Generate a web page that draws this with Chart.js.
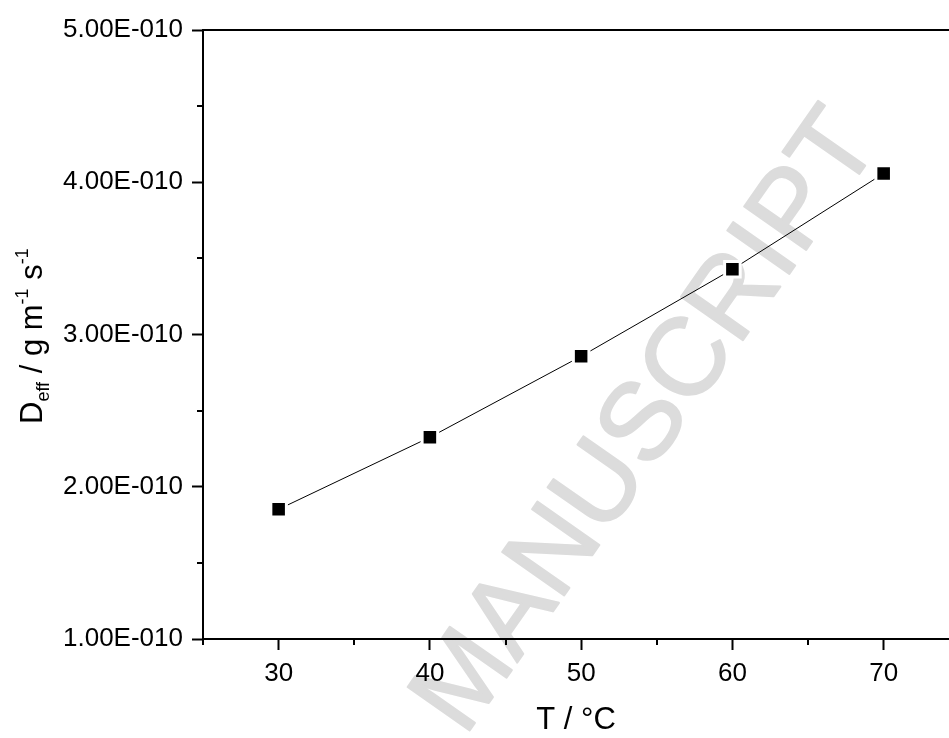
<!DOCTYPE html>
<html>
<head>
<meta charset="utf-8">
<script src="https://cdn.jsdelivr.net/npm/chart.js@4/dist/chart.umd.min.js"></script>
<style>
  html, body { margin: 0; padding: 0; background: #fff; }
  #wrap { width: 949px; height: 738px; }
</style>
</head>
<body>
<div id="wrap"><canvas id="c" width="949" height="738"></canvas></div>
<script>
// ---- data ----
const temperatures = [30, 40, 50, 60, 70];                                   // T / °C
const deffValues   = [1.852e-10, 2.325e-10, 2.857e-10, 3.428e-10, 4.058e-10]; // D_eff
const xTickValues  = [25, 30, 35, 40, 45, 50, 55, 60, 65, 70];
const yTickValues  = [1.0e-10, 1.5e-10, 2.0e-10, 2.5e-10, 3.0e-10, 3.5e-10, 4.0e-10, 4.5e-10, 5.0e-10];
const xTitle = 'T / °C';
const watermarkText = 'MANUSCRIPT';

const FONT = '"Liberation Sans", Arial, Helvetica, sans-serif';

function isMajorX(v) { return Math.abs(v % 10) < 1e-9; }
function isMajorY(v) { const m = v / 1e-10; return Math.abs(m - Math.round(m)) < 1e-6; }
function fmtE(v) {
  const exp = Math.floor(Math.log10(Math.abs(v)) + 1e-9);
  const mant = v / Math.pow(10, exp);
  return mant.toFixed(2) + 'E' + (exp < 0 ? '-' : '+') + String(Math.abs(exp)).padStart(3, '0');
}

const decorPlugin = {
  id: 'decor',
  beforeDraw(chart) {
    const ctx = chart.ctx;
    // watermark
    ctx.save();
    ctx.translate(673, 440);
    ctx.rotate(-55 * Math.PI / 180);
    ctx.font = '110px ' + FONT;
    ctx.fillStyle = 'rgb(220,220,220)';
    ctx.strokeStyle = 'rgb(220,220,220)';
    ctx.lineWidth = 2;
    ctx.lineJoin = 'round';
    ctx.textAlign = 'center';
    ctx.textBaseline = 'alphabetic';
    ctx.fillText(watermarkText, 0, 0);
    ctx.strokeText(watermarkText, 0, 0);
    ctx.restore();
  },
  afterDraw(chart) {
    const ctx = chart.ctx;
    const area = chart.chartArea;
    const xs = chart.scales.x, ys = chart.scales.y;
    const align = p => Math.round(p - 1) + 1;
    ctx.save();
    ctx.strokeStyle = '#000';
    ctx.lineWidth = 2;
    // minor ticks x
    xs.ticks.forEach(t => {
      if (!isMajorX(t.value)) {
        const px = align(xs.getPixelForValue(t.value));
        ctx.beginPath(); ctx.moveTo(px, area.bottom); ctx.lineTo(px, area.bottom + 6); ctx.stroke();
      }
    });
    // minor ticks y
    ys.ticks.forEach(t => {
      if (!isMajorY(t.value)) {
        const py = align(ys.getPixelForValue(t.value));
        ctx.beginPath(); ctx.moveTo(area.left, py); ctx.lineTo(area.left - 6, py); ctx.stroke();
      }
    });
    // top frame line
    const ty = align(area.top);
    ctx.beginPath(); ctx.moveTo(area.left - 1, ty); ctx.lineTo(chart.width, ty); ctx.stroke();
    ctx.restore();

    // y-axis title with sub/superscripts
    ctx.save();
    ctx.translate(42, 424);
    ctx.rotate(-Math.PI / 2);
    ctx.fillStyle = '#000';
    ctx.textAlign = 'left';
    ctx.textBaseline = 'alphabetic';
    const segs = [
      { t: 'D', s: 31, dy: 0 },
      { t: 'eff', s: 18, dy: 7 },
      { t: ' / g m', s: 31, dy: 0 },
      { t: '-1', s: 18, dy: -14 },
      { t: ' s', s: 31, dy: 0 },
      { t: '-1', s: 18, dy: -14 }
    ];
    let x = 0;
    segs.forEach(g => {
      ctx.font = g.s + 'px ' + FONT;
      ctx.fillText(g.t, x, g.dy);
      x += ctx.measureText(g.t).width;
    });
    ctx.restore();
  }
};

new Chart(document.getElementById('c'), {
  type: 'line',
  data: {
    datasets: [{
      data: temperatures.map((t, i) => ({ x: t, y: deffValues[i] })),
      borderColor: '#000',
      borderWidth: 1,
      backgroundColor: '#000',
      pointStyle: 'rect',
      pointRadius: 11,
      pointBackgroundColor: '#000',
      pointBorderColor: '#fff',
      pointBorderWidth: 3,
      tension: 0,
      fill: false
    }]
  },
  options: {
    responsive: false,
    animation: false,
    devicePixelRatio: 1,
    layout: { autoPadding: false, padding: { top: 30, right: 0, bottom: 0, left: 0 } },
    plugins: { legend: { display: false }, tooltip: { enabled: false } },
    events: [],
    scales: {
      x: {
        type: 'linear',
        position: 'bottom',
        min: 25,
        max: 74.32,
        bounds: 'data',
        afterBuildTicks: s => { s.ticks = xTickValues.map(v => ({ value: v })); },
        afterFit: s => { s.height = 99; s.paddingLeft = 0; s.paddingRight = 0; },
        grid: {
          drawOnChartArea: false, drawTicks: true, tickLength: 11, tickWidth: 2,
          tickColor: c => (c.tick && isMajorX(c.tick.value)) ? '#000' : 'rgba(0,0,0,0)'
        },
        border: { display: true, color: '#000', width: 2 },
        ticks: {
          padding: 8, color: '#000', font: { family: FONT, size: 26 },
          maxRotation: 0, autoSkip: false,
          callback: v => isMajorX(v) ? String(v) : ''
        },
        title: {
          display: true, text: xTitle, color: '#000',
          font: { family: FONT, size: 31, lineHeight: 1.1 }, padding: { top: 0, bottom: 0 }
        }
      },
      y: {
        type: 'linear',
        position: 'left',
        min: 1e-10,
        max: 5e-10,
        bounds: 'data',
        afterBuildTicks: s => { s.ticks = yTickValues.map(v => ({ value: v })); },
        afterFit: s => { s.width = 203; },
        grid: {
          drawOnChartArea: false, drawTicks: true, tickLength: 11, tickWidth: 2,
          tickColor: c => (c.tick && isMajorY(c.tick.value)) ? '#000' : 'rgba(0,0,0,0)'
        },
        border: { display: true, color: '#000', width: 2 },
        ticks: {
          padding: 9, color: '#000', font: { family: FONT, size: 26 },
          autoSkip: false,
          callback: v => isMajorY(v) ? fmtE(v) : ''
        }
      }
    }
  },
  plugins: [decorPlugin]
});
</script>
</body>
</html>
